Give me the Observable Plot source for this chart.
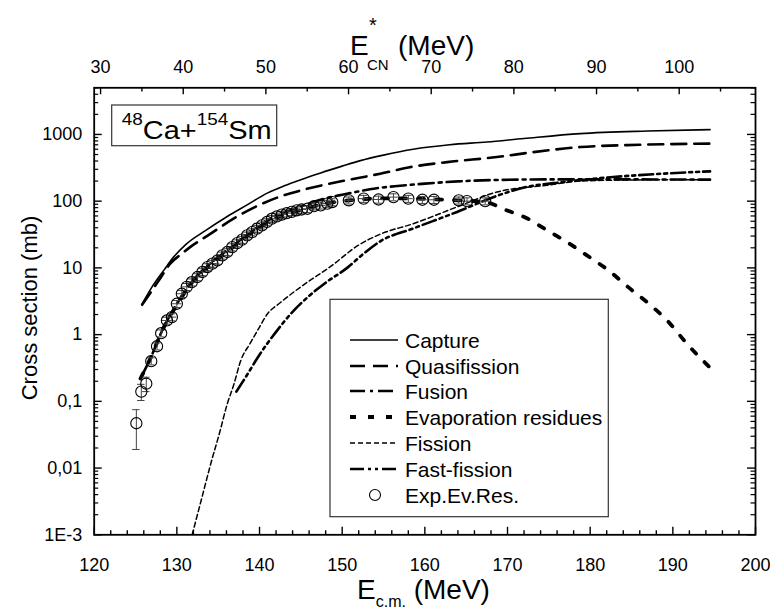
<!DOCTYPE html>
<html><head><meta charset="utf-8">
<script src="https://cdn.jsdelivr.net/npm/d3@7"></script>
<script src="https://cdn.jsdelivr.net/npm/@observablehq/plot@0.6"></script>
<style>
html,body{margin:0;padding:0;background:#fff;}
#chart{width:770px;height:610px;}
</style></head><body><div id="chart"></div>
<script>
// ---------- data ----------
const captureE = [125.8,127,128.5,129.6,131,133.5,136,138.5,141,143,145,147.4,150,152.2,155,158.6,163,167.5,172,178.8,186.9,194.5];
const captureS = [2.9,5.2,9.5,14.5,22,36.5,58,88,133,170,210,265,335,405,490,600,700,770,870,1030,1125,1180];

const quasiE = [125.8,127,128,129.2,130.5,131.6,134,136.9,139.5,142.3,145,150,154.6,158,162.7,168.7,173,178.8,186,194.5];
const quasiS = [2.8,4.6,7,11.6,16,20.5,32,55,82,115,145,200,258,320,385,458,540,647,700,728];

const fusionE = [125.6,127,128,130,132,134,136,138,140,142,144,146,148,150,152,154,157,160,164,168,175,185,194.5];
const fusionS = [0.22,0.5,1.0,2.9,6.6,11.5,18,28,42,60,75,92,110,125,140,155,170,183,198,207,212,212,210];

const erE = [125.6,127,128,130,132,134,136,138,140,142,144,146,148,150,152,155,158,161,164,166,167.5,169.9,172.4,174.8,177.2,179.6,182.2,184.6,187.1,189.5,191.7,194.5];
const erS = [0.22,0.5,1.0,2.8,6.4,11,17,27,40,56,68,80,92,100,106,110,110,107,103,100,96,73,55,36.5,24.4,15.4,9.2,5.15,2.9,1.54,0.73,0.32];

const fissionE = [131.85,133,134.1,135.2,136.1,136.9,137.7,138.9,140,140.9,142.5,145,148.6,152,154.6,158.6,163.9,168.7,174.8,178.8,185,194.5];
const fissionS = [0.001,0.0035,0.0116,0.035,0.092,0.18,0.40,0.75,1.3,2.0,3.0,5.2,10.5,22,32,46,82,137,173,200,208,210];

const fastE = [137.2,138.5,140,142,144,146,148,150.6,152.5,154.6,158.6,163.9,168.7,172,176.8,182.8,188,194.5];
const fastS = [0.14,0.25,0.5,1.1,2.2,3.8,6,10,16,25,39,69,120,160,194,230,255,280];

const expE = [125.1,125.7,126.3,126.9,127.6,128.1,128.8,129.4,130.0,130.6,131.2,131.8,132.5,133.1,133.7,134.3,134.9,135.5,136.1,136.7,137.3,137.9,138.5,139.1,139.7,140.3,140.9,141.5,142.1,142.7,143.3,143.9,144.5,145.1,145.8,146.6,147.4,148.2,148.8,150.8,152.6,154.4,156.2,158.0,159.7,161.1,164.1,165.1,167.3];
const expS = [0.047,0.14,0.184,0.40,0.67,1.05,1.63,1.83,2.9,4.1,5.2,6.1,7.3,8.7,10.3,11.6,12.9,15.4,17.3,20.5,23.5,26.5,30.7,34.4,38.7,43.4,48.7,54.6,59,63,66,69,73,75,77,84,86.5,92,97,103,109,106,115,109,105,105,103,100,100];
const expLoFirst = [0.019,0.103,0.14];
const expHiFirst = [0.075,0.18,0.23];
const expRelErr = 0.12;
const expXErr = 0.6;

// axes
const xMajor = [120,130,140,150,160,170,180,190,200];
const xMinor = [122,124,126,128,132,134,136,138,142,144,146,148,152,154,156,158,162,164,166,168,172,174,176,178,182,184,186,188,192,194,196,198];
const topMajor = [30,40,50,60,70,80,90,100];
const topMinor = [35,45,55,65,75,85,95,105];
const topOffset = 90.77; // E_c.m. - E*_CN
const yMajor = [1e-3,1e-2,1e-1,1,10,100,1000];
const yLabels = ["1E-3","0,01","0,1","1","10","100","1000"];
const yMinor = [];
for (const d of [1e-3,1e-2,1e-1,1,10,100,1000]) for (const m of [2,3,4,5,6,7,8,9]) if (d*m <= 5000) yMinor.push(+(d*m).toPrecision(3));

const legendNames = ["Capture","Quasifission","Fusion","Evaporation residues","Fission","Fast-fission","Exp.Ev.Res."];

// ---------- styles ----------
const styles = {
  Capture: {strokeWidth:1.6, dash:null},
  Quasifission: {strokeWidth:2.6, dash:"15,8"},
  Fusion: {strokeWidth:2.6, dash:"15,5,3,5"},
  "Evaporation residues": {strokeWidth:3.8, dash:"6,12"},
  Fission: {strokeWidth:1.5, dash:"5,3"},
  "Fast-fission": {strokeWidth:2.6, dash:"14,4,3,4,3,4"}
};

const toRows = (E,S) => E.map((e,i)=>({e, s:S[i]}));
const series = [
  ["Capture", toRows(captureE,captureS)],
  ["Quasifission", toRows(quasiE,quasiS)],
  ["Fusion", toRows(fusionE,fusionS)],
  ["Evaporation residues", toRows(erE,erS)],
  ["Fission", toRows(fissionE,fissionS)],
  ["Fast-fission", toRows(fastE,fastS)]
];
const exp = expE.map((e,i)=>({
  e, s:expS[i],
  lo: i < expLoFirst.length ? expLoFirst[i] : expS[i]*(1-expRelErr),
  hi: i < expHiFirst.length ? expHiFirst[i] : expS[i]*(1+expRelErr),
  xe: i < 6 ? 0 : expXErr
}));

// ---------- layout ----------
const W=770, H=610, mL=93.7, mR=15, mT=87.3, mB=75.7;
const fH = H-mT-mB, fW = W-mL-mR;
const font = "'Liberation Sans', Arial, Helvetica, sans-serif";
const yLabelMap = new Map(yMajor.map((d,i)=>[d,yLabels[i]]));
const topVals = topMajor.map(t=>t+topOffset);
const topLabelMap = new Map(topVals.map((v,i)=>[v,String(topMajor[i])]));

const lineMarks = series.map(([name,rows]) => Plot.line(rows, {
  x:"e", y:"s", stroke:"black", strokeWidth:styles[name].strokeWidth,
  strokeDasharray:styles[name].dash || undefined, curve:"monotone-x", clip:true
}));

const plot = Plot.plot({
  width:W, height:H, marginLeft:mL, marginRight:mR, marginTop:mT, marginBottom:mB,
  style:{fontFamily:font, background:"white", color:"black", overflow:"visible"},
  x:{domain:[120,200]},
  y:{type:"log", domain:[1e-3,5000]},
  marks:[
    ...lineMarks,
    Plot.ruleX(exp, {x:"e", y1:"lo", y2:"hi", stroke:"#444", strokeWidth:1}),
    Plot.ruleY(exp, {y:"lo", x1:d=>d.e-0.45, x2:d=>d.e+0.45, stroke:"#444", strokeWidth:1}),
    Plot.ruleY(exp, {y:"hi", x1:d=>d.e-0.45, x2:d=>d.e+0.45, stroke:"#444", strokeWidth:1}),
    Plot.ruleY(exp.filter(d=>d.xe>0), {y:"s", x1:d=>d.e-d.xe, x2:d=>d.e+d.xe, stroke:"#444", strokeWidth:1}),
    Plot.dot(exp, {x:"e", y:"s", r:5.6, stroke:"black", strokeWidth:1.1, fill:"none"}),
    // inward ticks
    Plot.tickX(xMajor, {x:d=>d, insetTop:fH-7.5, stroke:"black", strokeWidth:1.4}),
    Plot.tickX(xMinor, {x:d=>d, insetTop:fH-4, stroke:"black", strokeWidth:1.4}),
    Plot.tickX(topVals, {x:d=>d, insetBottom:fH-7, stroke:"black", strokeWidth:1.4}),
    Plot.tickX(topMinor.map(t=>t+topOffset), {x:d=>d, insetBottom:fH-4.3, stroke:"black", strokeWidth:1.4}),
    Plot.tickY(yMajor, {y:d=>d, insetRight:fW-8, stroke:"black", strokeWidth:1.4}),
    Plot.tickY(yMinor, {y:d=>d, insetRight:fW-4.5, stroke:"black", strokeWidth:1.2}),
    Plot.tickY(yMajor, {y:d=>d, insetLeft:fW-8, stroke:"black", strokeWidth:1.4}),
    Plot.tickY(yMinor, {y:d=>d, insetLeft:fW-4.5, stroke:"black", strokeWidth:1.2}),
    Plot.frame({stroke:"black", strokeWidth:1.8}),
    Plot.axisX(xMajor, {anchor:"bottom", tickSize:0, tickPadding:23, fontSize:18, label:null, fill:"black"}),
    Plot.axisX(topVals, {anchor:"top", tickSize:0, tickPadding:14.6, fontSize:18, label:null, fill:"black", tickFormat:d=>topLabelMap.get(d)}),
    Plot.axisY(yMajor, {anchor:"left", tickSize:0, tickPadding:12, fontSize:18, label:null, fill:"black", tickFormat:d=>yLabelMap.get(d)})
  ]
});
document.getElementById("chart").appendChild(plot);

// ---------- titles, label box and legend ----------
const svg = d3.select(plot);
const g = svg.append("g").attr("font-family", font).attr("fill", "black").attr("text-anchor","start");

// y title
g.append("text").attr("transform","translate(37,308) rotate(-90)")
  .attr("text-anchor","middle").attr("font-size",22).text("Cross section (mb)");

// bottom title
const bt = g.append("text").attr("x",357).attr("y",599).attr("font-size",28);
bt.append("tspan").text("E");
bt.append("tspan").attr("font-size",16).attr("dy",8).text("c.m.");
bt.append("tspan").attr("dy",-8).text(" (MeV)");

// top title
g.append("text").attr("x",350).attr("y",55).attr("font-size",28).text("E");
g.append("text").attr("x",369).attr("y",32).attr("font-size",20).text("*");
g.append("text").attr("x",367).attr("y",70).attr("font-size",15).text("CN");
g.append("text").attr("x",398).attr("y",55).attr("font-size",28).text("(MeV)");

// reaction label
g.append("rect").attr("x",111.7).attr("y",105).attr("width",165).attr("height",40.7)
  .attr("fill","white").attr("stroke","#333").attr("stroke-width",1.2);
const rl = g.append("text").attr("x",121.7).attr("y",139.3).attr("font-size",26)
  .attr("textLength",150).attr("lengthAdjust","spacingAndGlyphs");
rl.append("tspan").attr("font-size",17).attr("dy",-14).text("48");
rl.append("tspan").attr("dy",14).text("Ca+");
rl.append("tspan").attr("font-size",17).attr("dy",-14).text("154");
rl.append("tspan").attr("dy",14).text("Sm");

// legend
const lg = g.append("g");
lg.append("rect").attr("x",330).attr("y",299.3).attr("width",278.3).attr("height",217.4)
  .attr("fill","white").attr("stroke","#333").attr("stroke-width",1.2);
const rowY = [340,366,391,417,443,469,495];
legendNames.forEach((name,i)=>{
  const y = rowY[i];
  if (styles[name]) {
    lg.append("line").attr("x1",350).attr("x2",398).attr("y1",y).attr("y2",y)
      .attr("stroke","black").attr("stroke-width",styles[name].strokeWidth)
      .attr("stroke-dasharray",styles[name].dash);
  } else {
    lg.append("circle").attr("cx",375).attr("cy",y).attr("r",5.5)
      .attr("fill","none").attr("stroke","black").attr("stroke-width",1.1);
  }
  lg.append("text").attr("x",405).attr("y",y).attr("dy","0.36em")
    .attr("font-size",21).text(name);
});
</script>
</body></html>
